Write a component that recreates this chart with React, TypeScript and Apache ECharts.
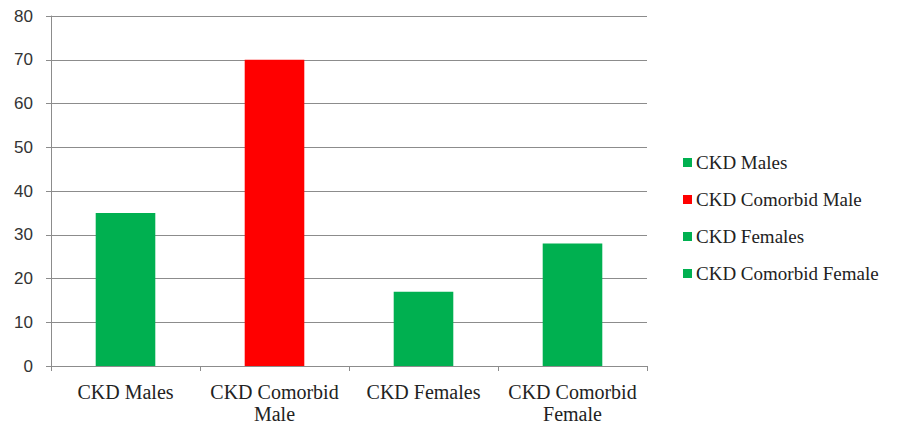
import React, { useEffect, useRef } from "react";
import * as echarts from "echarts";

const categories = ["CKD Males", "CKD Comorbid\nMale", "CKD Females", "CKD Comorbid\nFemale"];
const seriesNames = ["CKD Males", "CKD Comorbid Male", "CKD Females", "CKD Comorbid Female"];
const values = [35, 70, 17, 28];
const colors = ["#00B050", "#FF0000", "#00B050", "#00B050"];

const SERIF = "'Liberation Serif', 'Times New Roman', serif";

export default function App() {
  const ref = useRef<HTMLDivElement>(null);

  useEffect(() => {
    if (!ref.current) return;
    const chart = echarts.init(ref.current, null, { renderer: "svg" });

    // One series per category, stacked so each bar sits centred in its slot
    const series = seriesNames.map((name, i) => ({
      name,
      type: "bar",
      stack: "all",
      barWidth: "40%",
      itemStyle: { color: colors[i] },
      data: values.map((v, j) => (j === i ? v : null)),
    }));

    chart.setOption({
      animation: false,
      backgroundColor: "#ffffff",
      grid: { left: 51, right: 258, top: 16, bottom: 61, containLabel: false },
      legend: {
        orient: "vertical",
        left: 683,
        top: 153,
        padding: 0,
        itemWidth: 9,
        itemHeight: 9,
        itemGap: 18,
        icon: "rect",
        textStyle: { fontFamily: SERIF, fontSize: 19, color: "#222", padding: [0, 0, 0, -1] },
        data: seriesNames,
      },
      xAxis: {
        type: "category",
        data: categories,
        axisLine: { lineStyle: { color: "#8c8c8c", width: 1 } },
        axisTick: { show: true, length: 5, lineStyle: { color: "#8c8c8c" } },
        axisLabel: {
          fontFamily: SERIF,
          fontSize: 20,
          color: "#222",
          margin: 15,
          lineHeight: 22,
          interval: 0,
        },
      },
      yAxis: {
        type: "value",
        min: 0,
        max: 80,
        interval: 10,
        axisLine: { show: true, lineStyle: { color: "#8c8c8c", width: 1 } },
        axisTick: { show: true, length: 5, lineStyle: { color: "#8c8c8c" } },
        splitLine: { lineStyle: { color: "#8c8c8c", width: 1 } },
        axisLabel: {
          fontFamily: "'Liberation Sans', sans-serif",
          fontSize: 17,
          color: "#333",
          margin: 18,
        },
      },
      series,
    });

    return () => chart.dispose();
  }, []);

  return (
    <div
      ref={ref}
      style={{ position: "fixed", left: 0, top: 0, width: 905, height: 427 }}
    />
  );
}
